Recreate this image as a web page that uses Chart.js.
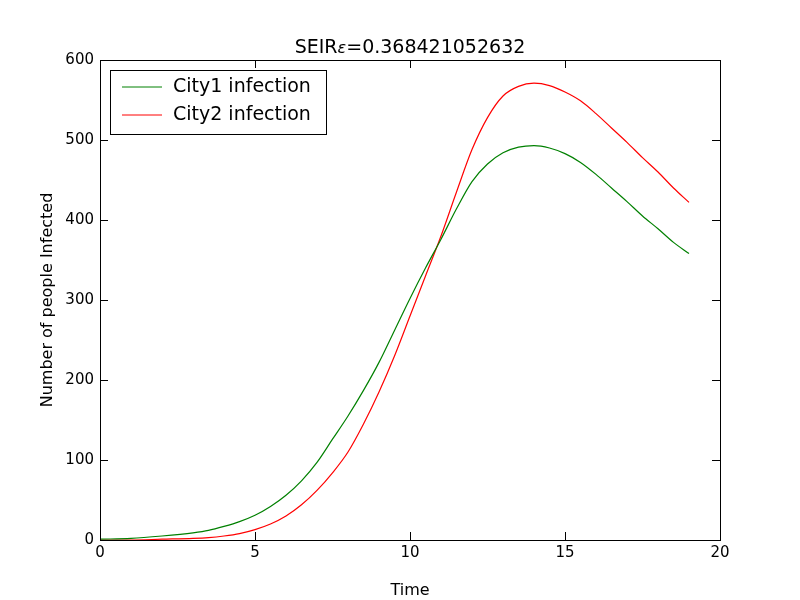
<!DOCTYPE html>
<html>
<head>
<script src="https://cdn.jsdelivr.net/npm/chart.js@4"></script>
<style>body{margin:0;background:#fff}#c{display:block}</style>
</head>
<body>
<canvas id="c" width="800" height="600"></canvas>
<script>
const times = [0,1,2,3,3.5,4,4.5,5,5.5,6,6.5,7,7.5,8,8.5,9,9.5,10,10.5,11,11.5,12,12.5,13,13.5,14,14.5,15,15.5,16,16.5,17,17.5,18,18.5,19];
const city1 = [1,2,5,9,12,17,23,31,42,56,74,97,126,155,187,222,262,302,340,376,414,448,470,484,491,493,490,483,472,457,440,423,405,389,372,358];
const city2 = [0,0,1,2,3,5,8,13,20,30,44,62,84,110,145,185,230,280,330,380,435,488,528,555,567,571,568,560,549,533,515,497,478,460,440,422];
const labels = ['City1 infection', 'City2 infection'];
const colors = ['#008000', '#ff0000'];
const font = 'DejaVu Sans';

const decor = {
  id: 'decor',
  afterDraw(chart) {
    const ctx = chart.ctx, a = chart.chartArea;
    const xs = chart.scales.x, ys = chart.scales.y;
    ctx.save();
    ctx.strokeStyle = '#000'; ctx.lineWidth = 1;
    ctx.strokeRect(a.left + 0.5, a.top + 0.5, a.right - a.left, a.bottom - a.top);
    ctx.beginPath();
    [0,5,10,15,20].forEach(v => {
      const px = Math.round(xs.getPixelForValue(v)) + 0.5;
      ctx.moveTo(px, a.bottom); ctx.lineTo(px, a.bottom - 8);
      ctx.moveTo(px, a.top); ctx.lineTo(px, a.top + 8);
    });
    [0,100,200,300,400,500,600].forEach(v => {
      const py = Math.round(ys.getPixelForValue(v)) + 0.5;
      ctx.moveTo(a.left, py); ctx.lineTo(a.left + 8, py);
      ctx.moveTo(a.right, py); ctx.lineTo(a.right - 8, py);
    });
    ctx.stroke();
    // title
    ctx.fillStyle = '#000';
    ctx.textBaseline = 'alphabetic';
    const t1 = 'SEIR', t2 = '\u03b5', t3 = '=0.368421052632';
    ctx.font = '19px ' + font;
    const w1 = ctx.measureText(t1).width, w3 = ctx.measureText(t3).width;
    ctx.font = 'italic 16px ' + font;
    const w2 = ctx.measureText(t2).width;
    let x = (a.left + a.right) / 2 - (w1 + w2 + w3) / 2;
    ctx.textAlign = 'left';
    ctx.font = '19px ' + font; ctx.fillText(t1, x, 53); x += w1;
    ctx.font = 'italic 16px ' + font; ctx.fillText(t2, x, 53); x += w2;
    ctx.font = '19px ' + font; ctx.fillText(t3, x, 53);
    // legend
    const lx = 110, ly = 70, lw = 216, lh = 64;
    ctx.fillStyle = '#fff';
    ctx.fillRect(lx, ly, lw, lh);
    ctx.strokeRect(lx + 0.5, ly + 0.5, lw, lh);
    ctx.font = '19px ' + font;
    ctx.textAlign = 'left'; ctx.textBaseline = 'middle';
    labels.forEach((l, i) => {
      const y = ly + 17 + i * 28;
      ctx.strokeStyle = colors[i];
      ctx.beginPath(); ctx.moveTo(lx + 12, y); ctx.lineTo(lx + 52, y); ctx.stroke();
      ctx.fillStyle = '#000';
      ctx.fillText(l, lx + 63, y);
    });
    ctx.restore();
  }
};

new Chart(document.getElementById('c'), {
  type: 'line',
  data: {
    datasets: [city1, city2].map((s, i) => ({
      label: labels[i],
      data: times.map((t, j) => ({ x: t, y: s[j] })),
      borderColor: colors[i],
      borderWidth: 1.2,
      pointRadius: 0,
      cubicInterpolationMode: 'monotone',
      fill: false
    }))
  },
  options: {
    responsive: false,
    animation: false,
    layout: { padding: { top: 60, right: 80, left: 38, bottom: 0 } },
    plugins: { legend: { display: false }, tooltip: { enabled: false } },
    scales: {
      x: {
        type: 'linear', min: 0, max: 20,
        ticks: { stepSize: 5, color: '#000', font: { family: font, size: 15 }, padding: 4 },
        grid: { display: false, drawTicks: false },
        border: { display: false },
        title: { display: true, text: 'Time', color: '#000', font: { family: font, size: 16 }, padding: { top: 4, bottom: 0 } },
        afterFit(s) { s.height = 60; }
      },
      y: {
        min: 0, max: 600,
        ticks: { stepSize: 100, color: '#000', font: { family: font, size: 15 }, padding: 6 },
        grid: { display: false, drawTicks: false },
        border: { display: false },
        title: { display: true, text: 'Number of people Infected', color: '#000', font: { family: font, size: 16 }, padding: 0 },
        afterFit(s) { s.width = 62; }
      }
    }
  },
  plugins: [decor]
});
</script>
</body>
</html>
